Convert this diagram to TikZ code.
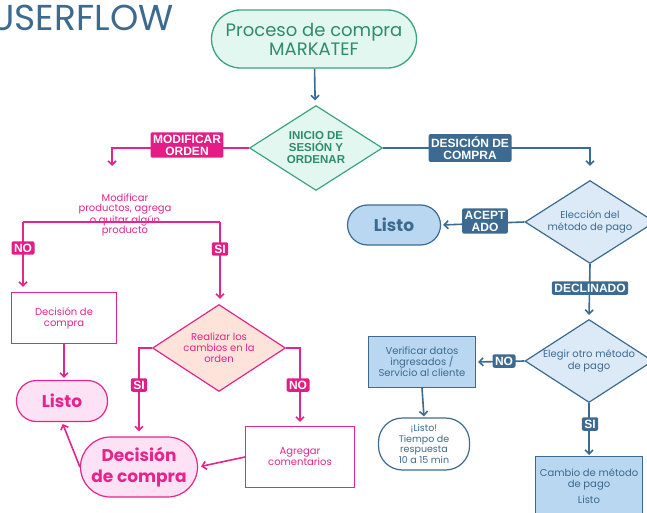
\documentclass[tikz,border=0pt]{standalone}
\usepackage{fontspec}
\setmainfont{Poppins}
\newfontfamily\tagfont{Liberation Sans}
\usetikzlibrary{shapes.geometric,arrows.meta}

\definecolor{rosa}{HTML}{E5248C}
\definecolor{rosatag}{HTML}{E31C86}
\definecolor{rosaclaro}{HTML}{FDE1F4}
\definecolor{durazno}{HTML}{FDE3DA}
\definecolor{azul}{HTML}{3C6A90}
\definecolor{azulclaro}{HTML}{B9D7F0}
\definecolor{azulpalido}{HTML}{DCEAF7}
\definecolor{verde}{HTML}{3BA37F}
\definecolor{verdetxt}{HTML}{2E8B6B}
\definecolor{menta}{HTML}{E3F7F1}

\begin{document}
\begin{tikzpicture}[x=1pt,y=-1pt,>={Straight Barb[length=4pt,width=8pt]},
  pk/.style={draw=rosa,line width=1.6pt},
  bl/.style={draw=azul,line width=1.6pt},
  pktag/.style={fill=rosatag,text=white,rounded corners=2pt,inner sep=2.5pt,
    align=center,font=\tagfont\bfseries\fontsize{12}{12}\selectfont},
  bltag/.style={pktag,fill=azul},
  pkbox/.style={draw=rosa,line width=1.2pt,fill=white,text=rosa,align=center,
    minimum width=105pt,minimum height=51pt,font=\fontsize{10}{11}\selectfont},
  pkround/.style={draw=rosa,line width=1.2pt,fill=rosaclaro,text=rosa,align=center,
    font=\bfseries\fontsize{17}{21}\selectfont},
  pkdiam/.style={diamond,draw=rosa,line width=1.2pt,fill=durazno,text=rosa,align=center,
    inner sep=0pt,font=\fontsize{10}{11}\selectfont},
  blbox/.style={draw=azul,line width=1.2pt,fill=azulclaro,text=azul,align=center,
    font=\fontsize{10}{11}\selectfont},
  bldiam/.style={diamond,draw=azul,line width=1.2pt,fill=azulpalido,text=azul,align=center,
    inner sep=0pt,font=\fontsize{10}{11.5}\selectfont}]
\useasboundingbox (0,0) rectangle (647,513);
\clip (0,0) rectangle (647,513);

% The title
\node[anchor=east,text=azul,font=\fontsize{36}{36}\selectfont] (titulo) at (177,18) {USERFLOW};

% Start and first decision
\node[draw=verde,line width=1.3pt,fill=menta,text=verdetxt,rounded corners=29pt,
  minimum width=205pt,minimum height=58pt,align=center,
  font=\fontsize{18}{19}\selectfont] (proceso) at (314,39) {Proceso de compra\\MARKATEF};
\node[diamond,draw=verde,line width=1.2pt,fill=menta,text=verdetxt,align=center,
  minimum width=133pt,minimum height=85pt,aspect=1.56,inner sep=0pt,
  font=\tagfont\bfseries\fontsize{11.5}{12}\selectfont] (inicio) at (316,148) {INICIO DE\\SESIÓN Y\\ORDENAR};

% Pink side
\node[text=rosa,align=center,font=\fontsize{10}{10.5}\selectfont] (modtxt) at (125,215)
  {Modificar\\productos, agrega\\o quitar algún\\producto};
\node[pkbox] (decchica) at (64,318) {Decisión de\\compra};
\node[pkround,rounded corners=20pt,minimum width=91pt,minimum height=41pt] (listorosa) at (62,401) {Listo};
\node[pkdiam,minimum width=133pt,minimum height=87pt,aspect=1.53] (realizar) at (219,348) {Realizar los\\cambios en la\\orden};
\node[pkround,rounded corners=30pt,minimum width=117pt,minimum height=60pt] (decgrande) at (139,467) {Decisión\\de compra};
\node[pkbox,minimum width=109pt,minimum height=61pt] (agregar) at (300,457) {Agregar\\comentarios};

% Blue side
\node[bldiam,minimum width=130pt,minimum height=83pt,aspect=1.57] (eleccion) at (590,222) {Elección del\\método de pago};
\node[blbox,rounded corners=20pt,minimum width=93pt,minimum height=40pt,
  font=\bfseries\fontsize{17}{19}\selectfont] (listoazul) at (394,225) {Listo};
\node[bldiam,minimum width=128pt,minimum height=83pt,aspect=1.54] (elegir) at (589,361) {Elegir otro método\\de pago};
\node[blbox,minimum width=107pt,minimum height=51pt] (verificar) at (422,362) {Verificar datos\\ingresados /\\Servicio al cliente};
\node[blbox,fill=white,rounded corners=24pt,minimum width=91pt,minimum height=52pt,
  font=\fontsize{9.5}{10.5}\selectfont] (respuesta) at (424,444) {¡Listo!\\Tiempo de\\respuesta\\10 a 15 min};
\node[blbox,anchor=north,minimum width=107pt,minimum height=60pt] (cambio) at (589,456)
  {Cambio de método\\de pago\\[5pt]Listo};

% Connectors
\coordinate (modfin) at (112,166);
\coordinate (forkL) at (23,222);
\coordinate (forkR) at (220,222);
\draw[bl,->,shorten >=5pt] (proceso) -- (inicio);
\draw[pk,->] (inicio.west) -| (modfin);
\draw[bl,->,shorten >=14pt] (inicio.east) -| (eleccion.north);
\draw[pk] (forkL) -- (forkR);
\draw[pk,->,shorten >=5pt] (forkL) -- (forkL |- decchica.north);
\draw[pk,->,shorten >=5pt] (forkR) -- (forkR |- realizar.north);
\draw[pk,->,shorten >=2pt] (decchica.south) -- (decchica.south |- listorosa.north);
\draw[pk,->,shorten >=5pt] (realizar.west) -| (decgrande.north);
\draw[pk,->,shorten >=4pt] (realizar.east) -| (agregar.north);
\draw[pk,->,shorten >=3pt] (agregar.west) -- (decgrande.east);
\draw[pk,->,shorten >=2pt] (decgrande.west) -- (listorosa.south);
\draw[bl,->,shorten >=2pt] (eleccion.west) -- (listoazul.east);
\draw[bl,->,shorten >=4pt] (eleccion.south) -- (elegir.north);
\draw[bl,->,shorten >=2pt] (elegir.west) -- (verificar.east);
\draw[bl,->,shorten >=1pt] (verificar.south) -- (respuesta.north);
\draw[bl,->,shorten >=1pt] (elegir.south) -- (cambio.north);

% Tags on the connectors
\node[pktag] (tagmod) at (187,145) {MODIFICAR\\ORDEN};
\node[bltag] (tagdes) at (470,148) {DESICIÓN DE\\COMPRA};
\node[pktag] (tagno1) at (23,248) {NO};
\node[pktag] (tagsi1) at (220,249) {SI};
\node[pktag] (tagsi2) at (139,385) {SI};
\node[pktag] (tagno2) at (298,385) {NO};
\node[bltag] (tagacep) at (485,221) {ACEPT\\ADO};
\node[bltag] (tagdecl) at (590,288) {DECLINADO};
\node[bltag] (tagno3) at (504,361) {NO};
\node[bltag] (tagsi3) at (590,424) {SI};
\end{tikzpicture}
\end{document}
